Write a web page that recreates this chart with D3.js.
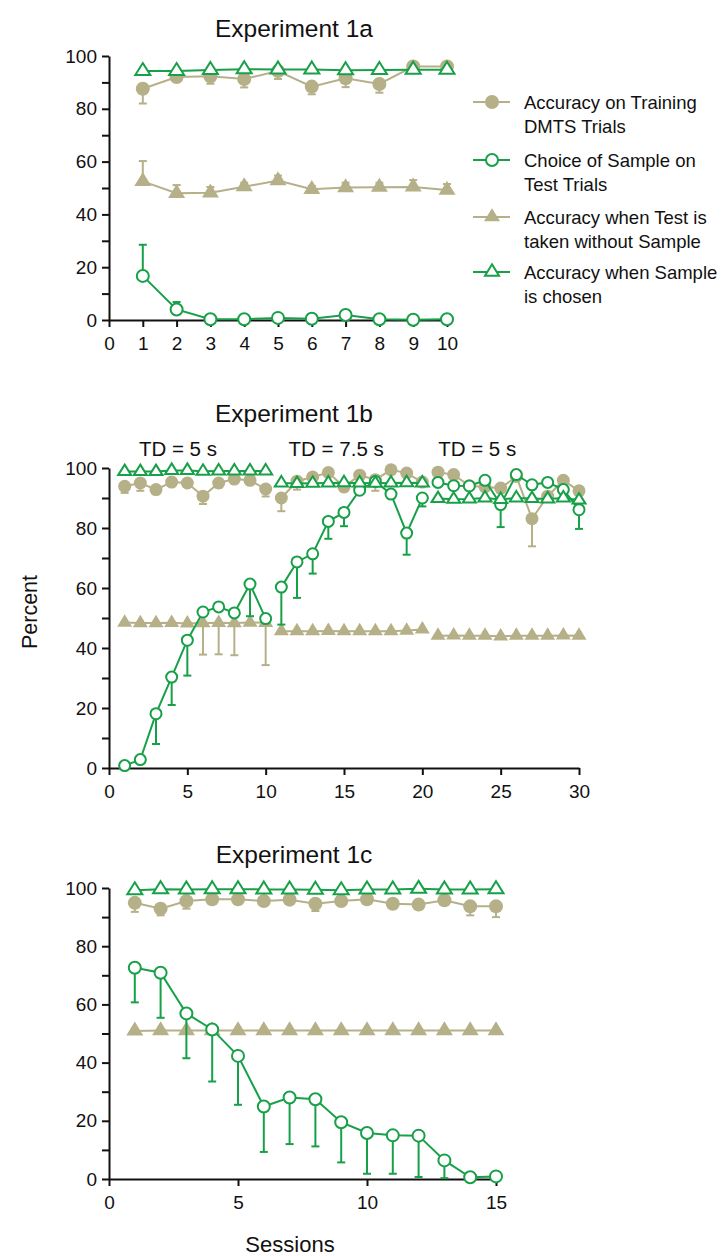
<!DOCTYPE html>
<html>
<head>
<meta charset="utf-8">
<script src="https://cdn.jsdelivr.net/npm/d3@7"></script>
<style>
  html, body { margin: 0; padding: 0; background: #fff; }
  svg { display: block; }
  text { font-family: "Liberation Sans", Arial, Helvetica, sans-serif; fill: #111; }
</style>
</head>
<body>
<svg id="chart" width="725" height="1256"></svg>
<script>
// ---------------- DATA ----------------
const seriesNames = [
  ["Accuracy on Training", "DMTS Trials"],
  ["Choice of Sample on", "Test Trials"],
  ["Accuracy when Test is", "taken without Sample"],
  ["Accuracy when Sample", "is chosen"]
];

// Experiment 1a
const sessions1a = [1,2,3,4,5,6,7,8,9,10];
const dmts1a      = [87.6, 92.0, 92.3, 91.3, 94.3, 88.4, 91.6, 89.4, 96.0, 96.0];
const dmtsErr1a   = [5.6, 1.5, 2.8, 3.2, 3.0, 2.9, 3.4, 3.3, 0.8, 0.8];
const choice1a    = [16.7, 4.0, 0.3, 0.3, 0.8, 0.5, 1.9, 0.3, 0.1, 0.3];
const choiceErr1a = [11.8, 2.8, 0, 0, 0, 0, 0, 0, 0, 0];
const without1a   = [52.5, 48.0, 48.2, 50.5, 52.8, 49.5, 50.2, 50.3, 50.4, 49.2];
const withoutErr1a= [7.7, 3.1, 2.2, 1.5, 1.9, 1.3, 1.8, 1.7, 2.6, 2.3];
const chosen1a    = [94.3, 94.3, 94.7, 95.0, 94.9, 94.9, 94.6, 94.7, 94.8, 94.8];

// Experiment 1b
const sessions1b = [1,2,3,4,5,6,7,8,9,10,11,12,13,14,15,16,17,18,19,20,21,22,23,24,25,26,27,28,29,30];
const phase1b    = [1,1,1,1,1,1,1,1,1,1,2,2,2,2,2,2,2,2,2,2,3,3,3,3,3,3,3,3,3,3];
const phaseLabels1b = ["TD = 5 s", "TD = 7.5 s", "TD = 5 s"];
const phaseLabelX1b = [4.4, 14.5, 23.5];
const dmts1b = [93.9,95.0,92.8,95.3,95.0,90.6,95.0,96.3,95.9,93.0,
                90.0,95.6,97.0,98.5,93.7,97.6,96.1,99.4,98.3,95.3,
                98.6,97.8,94.1,93.7,93.3,97.2,83.1,90.6,95.9,92.4];
const dmtsErr1b = [2.2,2.6,1.5,0,0,2.6,1.5,0,0,2.5,
                   4.4,2.8,0,0,1.5,0,3.7,0,1.0,0,
                   1.5,1.0,0,1.0,1.5,0,9.2,0,1.0,0];
const choice1b = [0.8,2.8,18.1,30.3,42.6,52.0,53.7,51.7,61.3,49.8,
                  60.3,68.7,71.4,82.2,85.2,92.6,95.5,91.3,78.3,90.0,
                  95.2,94.1,94.0,95.9,87.8,97.8,94.4,95.2,92.8,86.1];
const choiceErr1b = [0,0,10.1,9.3,11.8,0,0,0,10.7,0,
                     12.5,12.0,6.6,5.8,4.6,0,0,0,7.2,2.8,
                     0,0,0,0,7.5,0,0,0,0,6.4];
const without1b = [48.5,48.3,48.3,48.4,48.2,48.3,48.4,48.3,48.5,48.4,
                   45.6,45.6,45.6,45.7,45.6,45.6,45.6,45.6,45.8,46.2,
                   44.1,44.2,44.1,44.1,43.9,44.1,44.1,44.1,44.2,44.1];
const withoutErr1b = [0,0,0,0,0,10.5,10.5,10.7,0,14.1,
                      0,0,0,0,0,0,0,0,0,0,
                      0,0,0,0,0,0,0,0,0,0];
const chosen1b = [98.8,98.8,98.8,99.2,99.2,98.9,99.0,99.0,99.0,99.0,
                  95.0,94.8,94.9,95.0,95.1,95.0,94.9,95.0,95.1,95.0,
                  89.8,89.6,89.7,90.0,89.5,90.0,89.8,89.7,90.0,89.3];

// Experiment 1c
const sessions1c = [1,2,3,4,5,6,7,8,9,10,11,12,13,14,15];
const dmts1c      = [94.9,92.9,95.5,96.1,96.1,95.5,96.0,94.6,95.5,96.1,94.6,94.3,95.8,93.7,93.7];
const dmtsErr1c   = [3.1,2.3,2.6,0,1.0,0,0,2.5,1.0,0,1.0,1.0,0,3.1,3.7];
const choice1c    = [72.6,70.9,56.9,51.4,42.3,24.9,28.0,27.4,19.5,15.8,15.0,14.9,6.4,0.6,0.9];
const choiceErr1c = [11.9,15.5,15.4,17.9,16.8,15.6,16.0,16.2,13.8,14.0,13.2,14.2,6.1,0,0];
const without1c   = [50.9,51.0,51.0,51.0,51.0,51.0,51.0,51.0,51.0,51.0,51.0,51.0,51.0,51.0,51.0];
const chosen1c    = [99.2,99.6,99.5,99.6,99.6,99.5,99.5,99.4,99.2,99.5,99.5,99.7,99.5,99.5,99.6];

const yTickLabels = [0, 20, 40, 60, 80, 100];

// ---------------- STYLE ----------------
const TAN = "#b5b088";
const GREEN = "#18a048";
const svg = d3.select("#chart");

function triPath(w, h) {
  return `M0,${-h*2/3}L${w/2},${h/3}L${-w/2},${h/3}Z`;
}

function drawPanel(cfg) {
  const x = d3.scaleLinear().domain([0, cfg.xMax]).range([cfg.left, cfg.right]);
  const y = d3.scaleLinear().domain([0, 100]).range([cfg.bottom, cfg.top]);
  const g = svg.append("g");

  // title
  g.append("text").attr("x", 294).attr("y", cfg.titleY)
    .attr("text-anchor", "middle").attr("font-size", 24.5).text(cfg.title);

  // axes
  const yAxis = d3.axisLeft(y).tickValues(d3.range(0, 101, 10))
    .tickSize(7).tickSizeOuter(0).tickPadding(5)
    .tickFormat(d => yTickLabels.includes(d) ? d : "");
  const ya = g.append("g").attr("transform", `translate(${cfg.left},0)`).call(yAxis);
  const xAxis = d3.axisBottom(x).tickValues(cfg.xTicks).tickSize(7).tickSizeOuter(0).tickPadding(5);
  const xa = g.append("g").attr("transform", `translate(0,${cfg.bottom})`).call(xAxis);
  [ya, xa].forEach(a => {
    a.select(".domain").attr("stroke", "#111").attr("stroke-width", 2);
    a.selectAll(".tick line").attr("stroke", "#111").attr("stroke-width", 2);
    a.selectAll(".tick text").attr("font-size", 19).attr("fill", "#111")
      .attr("font-family", "Liberation Sans, Arial, sans-serif");
  });
  xa.selectAll(".tick text").attr("dy", "0.95em");

  const r = cfg.r;
  const tw = cfg.tw, th = cfg.th;

  function rows(vals, errs, dir) {
    return cfg.sessions.map((s, i) => ({
      s, v: vals[i], e: errs ? errs[i] : 0, dir, ph: cfg.phase ? cfg.phase[i] : 1
    }));
  }
  const line = d3.line().x(d => x(d.s)).y(d => y(d.v));

  function drawSeries(data, color, lineW) {
    const groups = d3.groups(data, d => d.ph);
    groups.forEach(([, seg]) => {
      g.append("path").datum(seg).attr("d", line)
        .attr("fill", "none").attr("stroke", color).attr("stroke-width", lineW);
    });
  }
  function drawErr(data, color) {
    const eg = g.append("g").attr("stroke", color).attr("stroke-width", 2);
    data.filter(d => d.e > 0).forEach(d => {
      const y1 = y(d.v), y2 = y(d.v + d.dir * d.e);
      eg.append("line").attr("x1", x(d.s)).attr("x2", x(d.s)).attr("y1", y1).attr("y2", y2);
      eg.append("line").attr("x1", x(d.s) - 4).attr("x2", x(d.s) + 4).attr("y1", y2).attr("y2", y2);
    });
  }

  const dWithout = rows(cfg.without, cfg.withoutErr, cfg.withoutDir);
  const dDmts = rows(cfg.dmts, cfg.dmtsErr, cfg.dmtsDir);
  const dChoice = rows(cfg.choice, cfg.choiceErr, cfg.choiceDir);
  const dChosen = rows(cfg.chosen, null, 1);

  // tan triangles
  drawErr(dWithout, TAN);
  drawSeries(dWithout, TAN, 2);
  g.append("g").selectAll("path").data(dWithout).join("path")
    .attr("transform", d => `translate(${x(d.s)},${y(d.v)})`)
    .attr("d", triPath(tw, th)).attr("fill", TAN);

  // tan circles
  drawErr(dDmts, TAN);
  drawSeries(dDmts, TAN, 2);
  g.append("g").selectAll("circle").data(dDmts).join("circle")
    .attr("cx", d => x(d.s)).attr("cy", d => y(d.v)).attr("r", r).attr("fill", TAN);

  // green open circles
  drawErr(dChoice, GREEN);
  drawSeries(dChoice, GREEN, 2);
  g.append("g").selectAll("circle").data(dChoice).join("circle")
    .attr("cx", d => x(d.s)).attr("cy", d => y(d.v)).attr("r", r - 1)
    .attr("fill", "#fff").attr("stroke", GREEN).attr("stroke-width", 2);

  // green open triangles
  drawSeries(dChosen, GREEN, 2);
  g.append("g").selectAll("path").data(dChosen).join("path")
    .attr("transform", d => `translate(${x(d.s)},${y(d.v)})`)
    .attr("d", triPath(tw - 2, th - 2)).attr("fill", "#fff")
    .attr("stroke", GREEN).attr("stroke-width", 2);

  if (cfg.phaseLabels) {
    cfg.phaseLabels.forEach((t, i) => {
      g.append("text").attr("x", x(cfg.phaseLabelX[i])).attr("y", cfg.phaseLabelY)
        .attr("text-anchor", "middle").attr("font-size", 20.5).text(t);
    });
  }
  return { x, y };
}

// Panel 1a
drawPanel({
  title: "Experiment 1a", titleY: 37,
  left: 109, right: 447, top: 56, bottom: 320, xMax: 10,
  xTicks: d3.range(0, 11, 1), sessions: sessions1a,
  dmts: dmts1a, dmtsErr: dmtsErr1a, dmtsDir: -1,
  choice: choice1a, choiceErr: choiceErr1a, choiceDir: 1,
  without: without1a, withoutErr: withoutErr1a, withoutDir: 1,
  chosen: chosen1a, r: 7, tw: 17, th: 14
});

// Panel 1b
drawPanel({
  title: "Experiment 1b", titleY: 422,
  left: 109, right: 579, top: 468, bottom: 768, xMax: 30,
  xTicks: d3.range(0, 31, 5), sessions: sessions1b, phase: phase1b,
  dmts: dmts1b, dmtsErr: dmtsErr1b, dmtsDir: -1,
  choice: choice1b, choiceErr: choiceErr1b, choiceDir: -1,
  without: without1b, withoutErr: withoutErr1b, withoutDir: -1,
  chosen: chosen1b, r: 6.5, tw: 15, th: 12.5,
  phaseLabels: phaseLabels1b, phaseLabelX: phaseLabelX1b, phaseLabelY: 456
});

// Panel 1c
drawPanel({
  title: "Experiment 1c", titleY: 863,
  left: 109, right: 496, top: 888, bottom: 1179, xMax: 15,
  xTicks: d3.range(0, 16, 5), sessions: sessions1c,
  dmts: dmts1c, dmtsErr: dmtsErr1c, dmtsDir: -1,
  choice: choice1c, choiceErr: choiceErr1c, choiceDir: -1,
  without: without1c, withoutErr: null, withoutDir: -1,
  chosen: chosen1c, r: 7, tw: 17, th: 14
});

// Axis titles
svg.append("text").attr("transform", "translate(37,612) rotate(-90)")
  .attr("text-anchor", "middle").attr("font-size", 21.5).text("Percent");
svg.append("text").attr("x", 290).attr("y", 1252)
  .attr("text-anchor", "middle").attr("font-size", 22).text("Sessions");

// Legend
const legY = [102, 160, 217, 272];
const lg = svg.append("g");
seriesNames.forEach((lines, i) => {
  const cy = legY[i];
  const color = (i % 2 === 0) ? TAN : GREEN;
  lg.append("line").attr("x1", 473).attr("x2", 510).attr("y1", cy).attr("y2", cy)
    .attr("stroke", color).attr("stroke-width", 2);
  if (i === 0) lg.append("circle").attr("cx", 492).attr("cy", cy).attr("r", 7).attr("fill", TAN);
  if (i === 1) lg.append("circle").attr("cx", 492).attr("cy", cy).attr("r", 6)
    .attr("fill", "#fff").attr("stroke", GREEN).attr("stroke-width", 2);
  if (i === 2) lg.append("path").attr("transform", `translate(492,${cy})`).attr("d", triPath(16, 13)).attr("fill", TAN);
  if (i === 3) lg.append("path").attr("transform", `translate(492,${cy})`).attr("d", triPath(14, 11.5))
    .attr("fill", "#fff").attr("stroke", GREEN).attr("stroke-width", 2);
  lines.forEach((t, j) => {
    lg.append("text").attr("x", 524).attr("y", cy + 6.5 + j * 24)
      .attr("font-size", 18.5).text(t);
  });
});
</script>
</body>
</html>
